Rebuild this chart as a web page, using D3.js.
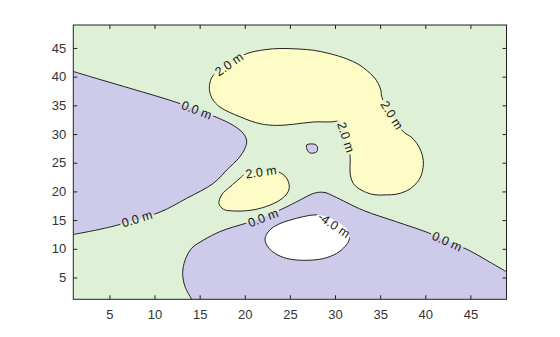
<!DOCTYPE html>
<html><head><meta charset="utf-8">
<script src="https://cdn.jsdelivr.net/npm/d3@7"></script>
<style>body{margin:0;background:#fff}svg{display:block}</style>
</head><body>
<svg id="c" width="560" height="337"></svg>
<script>
// ---- data ----
const xDomain = [1, 49];
const yDomain = [1.2, 49];
const xTicks = [5, 10, 15, 20, 25, 30, 35, 40, 45];
const yTicks = [5, 10, 15, 20, 25, 30, 35, 40, 45];
const levels = [-4, 0, 2];
const bandColors = ["#ffffff", "#cecae9", "#def0d6", "#fdfcc6"]; // <-4, -4..0, 0..2, >2

// 0 m contour touching left edge (region below 0 is on the left)
const zeroLeft = [[1,40.9],[3.96,39.5],[7.65,37.8],[12.46,35.5],[16.89,32.9],[18.73,31.5],[19.84,30.1],[20.21,28.8],[20.02,27.5],[19.28,25.7],[18.17,24.0],[16.51,21.4],[13.56,18.8],[10.61,16.4],[5.07,13.8],[1,12.5]];
// 0 m contour from bottom edge to right edge (region below 0 underneath)
const zeroBottom = [[14.12,1.2],[13.38,3.4],[13.12,5.7],[13.38,8.0],[14.12,10.1],[15.4,11.5],[17.25,13.0],[18.73,13.8],[20.02,14.4],[22.02,15.5],[24.09,16.9],[26.12,18.5],[27.23,19.4],[27.97,19.8],[28.89,19.8],[29.81,19.2],[33.13,16.7],[36.83,14.7],[40.33,12.8],[42.52,11.3],[44.77,9.8],[46.8,8.0],[49,6.0]];
// small closed 0 m contour (below 0 inside)
const zeroSmall = [[26.86,28.1],[27.78,28.2],[28.04,27.8],[27.97,26.9],[27.23,26.7],[26.93,27.2]];
// large closed 2 m contour
const twoBig = [[20.21,44.0],[22.24,44.7],[23.9,44.9],[26.12,44.8],[27.59,44.6],[29.44,44.0],[31.29,43.1],[32.54,42.2],[33.51,41.1],[34.32,39.9],[34.79,38.8],[35.09,37.6],[35.17,36.5],[36.31,33.3],[37.56,30.4],[38.42,29.5],[39.05,28.4],[39.53,27.0],[39.78,25.4],[39.75,24.1],[39.47,22.5],[38.75,21.0],[37.94,20.1],[36.76,19.5],[35.72,19.4],[34.43,19.4],[33.51,19.8],[32.54,20.6],[32.02,21.4],[31.71,22.7],[31.66,24.1],[31.66,26.3],[31.21,29.3],[30.55,32.1],[29.44,32.1],[27.59,32.1],[25.38,31.7],[23.54,31.5],[21.69,31.8],[19.47,33.0],[17.25,34.7],[16.42,36.1],[16.09,37.6],[16.15,39.0],[16.51,40.2],[18.36,42.3]];
// small closed 2 m contour
const twoSmall = [[19.84,22.8],[19.47,22.3],[18.36,20.8],[17.44,19.4],[17.14,17.9],[17.62,16.9],[18.73,16.6],[20.58,16.7],[22.43,17.4],[23.9,18.5],[24.71,19.7],[24.93,20.8],[24.64,22.3],[23.71,23.4],[21.8,23.3]];
// closed -4 m contour
const minusFour = [[22.24,11.7],[22.79,13.3],[23.9,14.4],[25.01,15.0],[26.48,15.6],[27.78,15.9],[29.11,15.6],[30.55,14.4],[31.47,13.0],[31.55,11.5],[31.1,10.4],[30.18,9.2],[28.7,8.3],[26.86,8.0],[25.01,8.2],[23.68,8.9],[22.68,10.1]];
// contour labels: text, x, y, angle
const labelText = ["0.0 m","0.0 m","2.0 m","2.0 m","2.0 m","2.0 m","0.0 m","0.0 m","-4.0 m"];
const labelX = [14.67, 8.06, 18.25, 36.31, 31.21, 21.8, 22.02, 42.4, 29.89];
const labelY = [34.2, 15.25, 42.16, 33.3, 29.45, 23.4, 15.4, 11.3, 14.13];
const labelAngle = [21, -17, -35, 58, 72, -8, -21, 24, 34];

// ---- drawing ----
const W = 560, H = 337;
const m = {l: 73.3, r: 506.5, t: 25, b: 299.3};
const x = d3.scaleLinear().domain(xDomain).range([m.l, m.r]);
const y = d3.scaleLinear().domain(yDomain).range([m.b, m.t]);
const svg = d3.select("#c");
const defs = svg.append("defs");
defs.append("clipPath").attr("id","clip").append("rect")
  .attr("x", m.l).attr("y", m.t).attr("width", m.r - m.l).attr("height", m.b - m.t);

const lineOpen = d3.line().x(d => x(d[0])).y(d => y(d[1])).curve(d3.curveCatmullRom.alpha(0.5));
const lineClosed = d3.line().x(d => x(d[0])).y(d => y(d[1])).curve(d3.curveCatmullRomClosed.alpha(0.5));

const plot = svg.append("g").attr("clip-path", "url(#clip)");
// band 0..2 as background
plot.append("rect").attr("x", m.l).attr("y", m.t).attr("width", m.r - m.l).attr("height", m.b - m.t)
  .attr("fill", bandColors[2]);
// -4..0 regions
plot.append("path").attr("d", lineOpen(zeroLeft) + "Z").attr("fill", bandColors[1]);
plot.append("path").attr("d", lineOpen(zeroBottom) + `L${x(xDomain[1])},${y(yDomain[0])}Z`).attr("fill", bandColors[1]);
plot.append("path").attr("d", lineClosed(zeroSmall)).attr("fill", bandColors[1]);
// >2 regions
plot.append("path").attr("d", lineClosed(twoBig)).attr("fill", bandColors[3]);
plot.append("path").attr("d", lineClosed(twoSmall)).attr("fill", bandColors[3]);
// < -4 region
plot.append("path").attr("d", lineClosed(minusFour)).attr("fill", bandColors[0]);

// labels (measure first to build mask)
const labels = labelText.map((t, i) => ({t, x: labelX[i], y: labelY[i], a: labelAngle[i]}));
const labG = svg.append("g");
const lt = labG.selectAll("text").data(labels).join("text")
  .attr("transform", d => `translate(${x(d.x)},${y(d.y)}) rotate(${d.a})`)
  .attr("text-anchor", "middle").attr("dy", "0.35em")
  .attr("font-family", "'Liberation Sans', Arial, sans-serif").attr("font-size", 12.5)
  .attr("fill", "#1a1a1a").text(d => d.t);

const mask = defs.append("mask").attr("id", "lm").attr("maskUnits", "userSpaceOnUse")
  .attr("x", 0).attr("y", 0).attr("width", W).attr("height", H);
mask.append("rect").attr("width", W).attr("height", H).attr("fill", "#fff");
lt.each(function(d) {
  const len = this.getComputedTextLength() + 4;
  mask.append("rect").attr("x", -len / 2).attr("y", -6).attr("width", len).attr("height", 12)
    .attr("fill", "#000")
    .attr("transform", `translate(${x(d.x)},${y(d.y)}) rotate(${d.a})`);
});

const lines = plot.append("g").attr("mask", "url(#lm)").attr("fill", "none")
  .attr("stroke", "#222").attr("stroke-width", 1);
lines.append("path").attr("d", lineOpen(zeroLeft));
lines.append("path").attr("d", lineOpen(zeroBottom));
lines.append("path").attr("d", lineClosed(zeroSmall));
lines.append("path").attr("d", lineClosed(twoBig));
lines.append("path").attr("d", lineClosed(twoSmall));
lines.append("path").attr("d", lineClosed(minusFour));
labG.raise();

// axes
const fontAx = "'Liberation Sans', Arial, sans-serif";
const axB = svg.append("g").attr("transform", `translate(0,${m.b})`)
  .call(d3.axisBottom(x).tickValues(xTicks).tickSize(-4).tickPadding(10));
const axT = svg.append("g").attr("transform", `translate(0,${m.t})`)
  .call(d3.axisTop(x).tickValues(xTicks).tickSize(-4).tickFormat(""));
const axL = svg.append("g").attr("transform", `translate(${m.l},0)`)
  .call(d3.axisLeft(y).tickValues(yTicks).tickSize(-4).tickPadding(7));
const axR = svg.append("g").attr("transform", `translate(${m.r},0)`)
  .call(d3.axisRight(y).tickValues(yTicks).tickSize(-4).tickFormat(""));
[axB, axT, axL, axR].forEach(a => {
  a.select(".domain").remove();
  a.selectAll("line").attr("stroke", "#222");
  a.selectAll("text").attr("font-family", fontAx).attr("font-size", 13).attr("fill", "#333");
});
svg.append("rect").attr("x", m.l).attr("y", m.t).attr("width", m.r - m.l).attr("height", m.b - m.t)
  .attr("fill", "none").attr("stroke", "#222").attr("stroke-width", 1);
</script>
</body></html>
